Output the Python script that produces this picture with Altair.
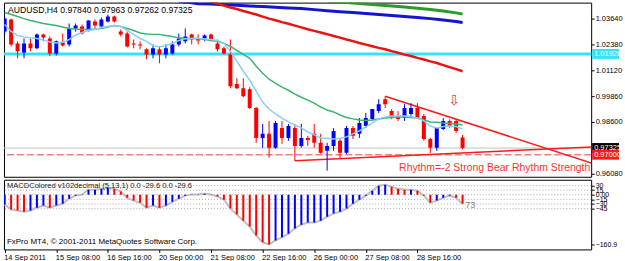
import altair as alt
import pandas as pd

# ---------------- data ----------------
bar_index = list(range(72))
opens = [1.0302, 1.0361, 1.0244, 1.0200, 1.0244, 1.0220, 1.0288, 1.0268, 1.0195, 1.0249,
         1.0239, 1.0317, 1.0327, 1.0312, 1.0351, 1.0327, 1.0351, 1.0375, 1.0302, 1.0292,
         1.0244, 1.0239, 1.0215, 1.0190, 1.0215, 1.0190, 1.0195, 1.0239, 1.0254, 1.0288,
         1.0268, 1.0268, 1.0288, 1.0244, 1.0220, 1.0190, 1.0045, 1.0025, 1.0020, 0.9928,
         0.9782, 0.9802, 0.9734, 0.9830, 0.9782, 0.9830, 0.9743, 0.9782, 0.9802, 0.9758,
         0.9719, 0.9743, 0.9768, 0.9709, 0.9830, 0.9802, 0.9840, 0.9874, 0.9913, 0.9971,
         0.9913, 0.9889, 0.9879, 0.9899, 0.9928, 0.9889, 0.9777, 0.9734, 0.9826, 0.9865,
         0.9865, 0.97840]
highs = [1.0375, 1.0365, 1.0254, 1.0268, 1.0268, 1.0292, 1.0292, 1.0278, 1.0258, 1.0292,
         1.0341, 1.0341, 1.0336, 1.0356, 1.0361, 1.0370, 1.0385, 1.0380, 1.0312, 1.0302,
         1.0263, 1.0254, 1.0220, 1.0239, 1.0229, 1.0239, 1.0254, 1.0292, 1.0317, 1.0292,
         1.0288, 1.0288, 1.0292, 1.0263, 1.0229, 1.0263, 1.0074, 1.0074, 1.0030, 0.9933,
         0.9850, 0.9865, 0.9865, 0.9865, 0.9850, 0.9850, 0.9850, 0.9792, 0.9850, 0.9802,
         0.9758, 0.9830, 0.9782, 0.9840, 0.9840, 0.9879, 0.9904, 0.9923, 0.9971, 0.9986,
         0.9923, 0.9913, 0.9947, 0.9952, 0.9952, 0.9899, 0.9782, 0.9830, 0.9879, 0.9874,
         0.9874, 0.97963]
lows = [1.0292, 1.0229, 1.0171, 1.0171, 1.0205, 1.0215, 1.0254, 1.0181, 1.0185, 1.0229,
        1.0229, 1.0302, 1.0288, 1.0302, 1.0317, 1.0322, 1.0346, 1.0346, 1.0278, 1.0224,
        1.0220, 1.0215, 1.0166, 1.0171, 1.0147, 1.0171, 1.0190, 1.0229, 1.0244, 1.0239,
        1.0239, 1.0254, 1.0254, 1.0205, 1.0190, 1.0025, 1.0020, 0.9981, 0.9923, 0.9758,
        0.9734, 0.9685, 0.9729, 0.9753, 0.9768, 0.9670, 0.9734, 0.9743, 0.9734, 0.9704,
        0.9622, 0.9719, 0.9680, 0.9704, 0.9777, 0.9782, 0.9830, 0.9865, 0.9904, 0.9928,
        0.9874, 0.9865, 0.9865, 0.9889, 0.9874, 0.9768, 0.9709, 0.9719, 0.9821, 0.9830,
        0.9806, 0.97262]
closes = [1.0365, 1.0239, 1.0205, 1.0244, 1.0220, 1.0288, 1.0273, 1.0195, 1.0254, 1.0234,
          1.0317, 1.0331, 1.0292, 1.0356, 1.0331, 1.0361, 1.0375, 1.0351, 1.0288, 1.0229,
          1.0239, 1.0234, 1.0190, 1.0220, 1.0190, 1.0220, 1.0239, 1.0268, 1.0278, 1.0263,
          1.0258, 1.0283, 1.0263, 1.0215, 1.0195, 1.0035, 1.0025, 0.9986, 0.9928, 0.9782,
          0.9802, 0.9734, 0.9855, 0.9782, 0.9840, 0.9743, 0.9782, 0.9772, 0.9758, 0.9709,
          0.9743, 0.9816, 0.9709, 0.9830, 0.9792, 0.9855, 0.9879, 0.9923, 0.9947, 0.9947,
          0.9879, 0.9874, 0.9928, 0.9928, 0.9879, 0.9777, 0.9734, 0.9830, 0.9865, 0.9840,
          0.9816, 0.97325]

fast_ma = [1.0336, 1.0302, 1.0283, 1.0275, 1.0271, 1.0268, 1.0261, 1.0251, 1.0246, 1.0249,
           1.0263, 1.0285, 1.0297, 1.0307, 1.0312, 1.0322, 1.0327, 1.0331, 1.0327, 1.0307,
           1.0288, 1.0268, 1.0254, 1.0234, 1.0227, 1.0234, 1.0244, 1.0258, 1.0266, 1.0268,
           1.0268, 1.0266, 1.0263, 1.0258, 1.0244, 1.0205, 1.0156, 1.0108, 1.0064, 1.0011,
           0.9957, 0.9923, 0.9899, 0.9879, 0.9860, 0.9845, 0.9831, 0.9811, 0.9797, 0.9782,
           0.9780, 0.9777, 0.9780, 0.9787, 0.9802, 0.9816, 0.9836, 0.9855, 0.9875, 0.9884,
           0.9889, 0.9889, 0.9889, 0.9887, 0.9879, 0.9865, 0.9840, 0.9831, 0.9838, 0.9840,
           0.9838, 0.9826]
mid_ma = [1.0395, 1.0385, 1.0375, 1.0365, 1.0356, 1.0348, 1.0341, 1.0336, 1.0331, 1.0324,
          1.0317, 1.0314, 1.0312, 1.0312, 1.0314, 1.0317, 1.0324, 1.0331, 1.0327, 1.0317,
          1.0307, 1.0295, 1.0290, 1.0288, 1.0288, 1.0283, 1.0278, 1.0271, 1.0268, 1.0268,
          1.0268, 1.0263, 1.0258, 1.0254, 1.0244, 1.0229, 1.0210, 1.0190, 1.0171, 1.0132,
          1.0098, 1.0069, 1.0049, 1.0030, 1.0015, 0.9996, 0.9981, 0.9967, 0.9952, 0.9933,
          0.9918, 0.9909, 0.9894, 0.9882, 0.9875, 0.9870, 0.9867, 0.9870, 0.9875, 0.9879,
          0.9882, 0.9884, 0.9884, 0.9882, 0.9879, 0.9870, 0.9860, 0.9858, 0.9855, 0.9853,
          0.9850, 0.9845]

red_ma_index = list(range(31, 72))
red_ma = [1.0458, 1.0448, 1.0438, 1.0429, 1.0419, 1.0412, 1.0402, 1.0394, 1.0385, 1.0375,
          1.0365, 1.0357, 1.0348, 1.0340, 1.0331, 1.0322, 1.0313, 1.0305, 1.0297, 1.0289,
          1.0280, 1.0272, 1.0263, 1.0255, 1.0246, 1.0238, 1.0230, 1.0222, 1.0215, 1.0206,
          1.0198, 1.0189, 1.0182, 1.0173, 1.0165, 1.0156, 1.0148, 1.0138, 1.0128, 1.0118,
          1.0108]
blue_ma_index = [27, 29, 30, 32, 34, 36, 38, 40, 42, 44, 46, 48, 50, 52, 54, 56, 58, 60,
                 62, 64, 66, 68, 70, 71]
blue_ma = [1.0450, 1.0443, 1.0438, 1.0436, 1.0433, 1.0430, 1.0427, 1.0424, 1.0421, 1.0417,
           1.0414, 1.0409, 1.0404, 1.0399, 1.0395, 1.0390, 1.0385, 1.0380, 1.0375, 1.0370,
           1.0365, 1.0358, 1.0351, 1.0346]
green_ma_index = [50, 52, 54, 56, 58, 60, 62, 64, 66, 68, 70, 71]
green_ma = [1.0450, 1.0446, 1.0441, 1.0436, 1.0432, 1.0427, 1.0422, 1.0416, 1.0410, 1.0402,
            1.0393, 1.0387]

upper_line_index = [59, 91.3]
upper_line = [0.9986, 0.9656]
lower_line_index = [45, 91.3]
lower_line = [0.9670, 0.97384]

cyan_level = 1.01926
bid_level = 0.97325
red_level = 0.97000

price_ticks = [1.03640, 1.02380, 1.01120, 0.99860, 0.98600, 0.96080]

macd = [-32, -48, -51, -55, -51, -42, -35, -42, -35, -29,
        -13, -3, 0.5, 16, 16, 19, 22, 19, 10, -10,
        -19, -26, -42, -35, -42, -35, -23, -13, -3, 0.5,
        1, 3, 0.5, -6, -16, -45, -64, -84, -103, -132,
        -154, -160.9, -148, -138, -126, -109, -97, -90, -90, -84,
        -71, -61, -55, -45, -29, -16, -3, 13, 29, 32,
        26, 19, 16, 16, 13, -3, -26, -19, -10, -3,
        -10, -29.6]
macd_levels = [30, 15, 0, -15, -30, -45]
macd_ticks = [30, 15, 0, -15, -30, -45, -160.9]

x_tick_index = [0, 8, 16, 24, 32, 40, 48, 56, 64]
x_tick_labels = ["14 Sep 2011", "15 Sep 08:00", "16 Sep 16:00", "20 Sep 00:00",
                 "21 Sep 08:00", "22 Sep 16:00", "26 Sep 00:00", "27 Sep 08:00",
                 "28 Sep 16:00"]

# ---------------- layout ----------------
W = 590
H_MAIN = 175
H_MACD = 70
FONT = "Liberation Sans"
BULL = "#0000ff"
BEAR = "#ff0000"

xscale = alt.Scale(domain=[-0.108, 90.94], nice=False, zero=False, padding=0)
pscale = alt.Scale(domain=[0.95921, 1.04432], nice=False, zero=False, padding=0)
price_axis = alt.Axis(orient="right", values=price_ticks, format=".5f", title=None,
                      grid=False, domain=False, tickSize=3, tickColor="black",
                      labelFont=FONT, labelFontSize=7.5, labelColor="black",
                      labelPadding=1, labelOverlap=False)

def X(field="i"):
    return alt.X(f"{field}:Q", scale=xscale, axis=None)

def PY(field):
    return alt.Y(f"{field}:Q", scale=pscale, axis=price_axis)

candles = pd.DataFrame({"i": bar_index, "open": opens, "high": highs,
                        "low": lows, "close": closes})
candles["dir"] = ["up" if c >= o else "down" for o, c in zip(opens, closes)]
ccolor = alt.Color("dir:N", scale=alt.Scale(domain=["up", "down"], range=[BULL, BEAR]),
                   legend=None)

wicks = alt.Chart(candles).mark_rule(strokeWidth=1, clip=True).encode(
    x=X(), y=PY("low"), y2="high:Q", color=ccolor)
bodies = alt.Chart(candles).mark_bar(size=4, clip=True).encode(
    x=X(), y=PY("open"), y2="close:Q", color=ccolor)

def ma_layer(idx, vals, color, width):
    d = pd.DataFrame({"i": idx, "v": vals})
    return alt.Chart(d).mark_line(color=color, strokeWidth=width, clip=True).encode(
        x=X(), y=PY("v"))

fast = ma_layer(bar_index, fast_ma, "#87cefa", 1.5)
mid = ma_layer(bar_index, mid_ma, "#3cb371", 1.5)
red_long = ma_layer(red_ma_index, red_ma, "#ee1111", 2.5)
blue_long = ma_layer(blue_ma_index, blue_ma, "#1515d0", 3)
green_long = ma_layer(green_ma_index, green_ma, "#2a9a2a", 3)
upper_tl = ma_layer(upper_line_index, upper_line, "#ff1a1a", 1.5)
lower_tl = ma_layer(lower_line_index, lower_line, "#ff1a1a", 1.5)

cyan_rule = alt.Chart(pd.DataFrame({"p": [cyan_level]})).mark_rule(
    color="#2ee6f7", strokeWidth=3).encode(y=PY("p"))
bid_rule = alt.Chart(pd.DataFrame({"p": [bid_level]})).mark_rule(
    color="#c0c0c0", strokeWidth=1).encode(y=PY("p"))
red_rule = alt.Chart(pd.DataFrame({"p": [red_level]})).mark_rule(
    color="#f08080", strokeWidth=1.5, strokeDash=[7, 3]).encode(y=PY("p"))

tags = pd.DataFrame({"p": [cyan_level, bid_level, red_level],
                     "t": ["1.01926", "0.97325", "0.97000"],
                     "bg": ["#35e3f5", "#000000", "#ff1a1a"]})
tag_bg = alt.Chart(tags).mark_rule(strokeWidth=10).encode(
    y=PY("p"), x=alt.value(W + 1), x2=alt.value(W + 28),
    color=alt.Color("bg:N", scale=None))
tag_txt = alt.Chart(tags).mark_text(align="left", baseline="middle", font=FONT,
                                    fontSize=7.5, color="white").encode(
    y=PY("p"), x=alt.value(W + 3), text="t:N")

title_txt = alt.Chart(pd.DataFrame({"t": ["AUDUSD,H4  0.97840 0.97963 0.97262 0.97325"]})).mark_text(
    align="left", baseline="middle", font=FONT, fontSize=8.7, color="black").encode(
    x=alt.value(4), y=alt.value(7), text="t:N")
rhythm = pd.DataFrame({"i": [90.8], "p": [0.9634],
                       "t": ["Rhythm=-2 Strong Bear Rhythm Strength"]})
rhythm_txt = alt.Chart(rhythm).mark_text(align="right", baseline="middle", font=FONT,
                                         fontSize=10.5, color="#ff3030").encode(
    x=X(), y=PY("p"), text="t:N")
arrow = pd.DataFrame({"i": [69.7], "p": [0.9962], "t": ["⇩"]})
arrow_txt = alt.Chart(arrow).mark_text(align="center", baseline="middle",
                                       font="DejaVu Sans", fontSize=14,
                                       color="#ff3030").encode(
    x=X(), y=PY("p"), text="t:N")

main = alt.layer(bid_rule, red_rule, cyan_rule, green_long, blue_long, red_long,
                 lower_tl, upper_tl, wicks, bodies, mid, fast, rhythm_txt, arrow_txt,
                 title_txt, tag_bg, tag_txt).properties(width=W, height=H_MAIN)

# ---------------- MACD panel ----------------
mscale = alt.Scale(domain=[-177.0, 48.3], nice=False, zero=False, padding=0)
label_expr = ("datum.value == 0 ? '0.00' : (datum.value < -100 ? format(datum.value, '.1f') "
              ": format(datum.value, '.0f'))")
macd_axis = alt.Axis(orient="right", values=macd_ticks, title=None, grid=False,
                     domain=False, tickSize=3, tickColor="black", labelFont=FONT,
                     labelFontSize=7, labelColor="black", labelPadding=1,
                     labelOverlap=False, labelExpr=label_expr)
xlabel_expr = "[" + ",".join(f"'{s}'" for s in x_tick_labels) + "][round(datum.value / 8)]"
x_axis = alt.Axis(values=x_tick_index, title=None, grid=False, domain=False, tickSize=3,
                  tickColor="black", labelFont=FONT, labelFontSize=7.5,
                  labelColor="black", labelAlign="left", labelPadding=1,
                  labelOffset=-1, labelExpr=xlabel_expr, labelOverlap=False)

mdf = pd.DataFrame({"i": bar_index, "v": macd})
mdf["dir"] = ["up" if k == 0 or macd[k] >= macd[k - 1] else "down" for k in range(len(macd))]

def MY(field):
    return alt.Y(f"{field}:Q", scale=mscale, axis=macd_axis)

MX = alt.X("i:Q", scale=xscale, axis=x_axis)

levels = alt.Chart(pd.DataFrame({"v": macd_levels})).mark_rule(
    color="#a8a8a8", strokeWidth=1, strokeDash=[1, 2]).encode(y=MY("v"))
hist = alt.Chart(mdf).mark_bar(size=2, clip=True).encode(
    x=MX, y=MY("v"), y2=alt.datum(0),
    color=alt.Color("dir:N", scale=alt.Scale(domain=["up", "down"],
                                             range=["#101090", "#ff0000"]), legend=None))
sig = alt.Chart(mdf).mark_line(color="#c0c0c0", strokeWidth=2, clip=True).encode(
    x=MX, y=MY("v"))
macd_title = alt.Chart(pd.DataFrame({"t": ["MACDColored v102decimal (5,13,1) 0.0 -29.6 0.0 -29.6"]})).mark_text(
    align="left", baseline="middle", font=FONT, fontSize=7.6, color="#202020").encode(
    x=alt.value(3), y=alt.value(6), text="t:N")
copyright_txt = alt.Chart(pd.DataFrame({"t": ["FxPro MT4, © 2001-2011 MetaQuotes Software Corp."]})).mark_text(
    align="left", baseline="middle", font=FONT, fontSize=8, color="black").encode(
    x=alt.value(3), y=alt.value(63), text="t:N")
last_txt = alt.Chart(pd.DataFrame({"i": [72.2], "v": [-33.0], "t": ["73"]})).mark_text(
    align="center", baseline="middle", font=FONT, fontSize=9, color="#808080").encode(
    x=MX, y=MY("v"), text="t:N")

macd_panel = alt.layer(levels, sig, hist, last_txt, macd_title, copyright_txt).properties(
    width=W, height=H_MACD)

chart = alt.vconcat(main, macd_panel, spacing=1).properties(
    padding={"left": 2, "top": 1, "right": 0, "bottom": 0},
    background="white"
).configure_view(stroke="black", strokeWidth=1)

chart.save("out.html", embed_options={"renderer": "svg", "actions": False})
